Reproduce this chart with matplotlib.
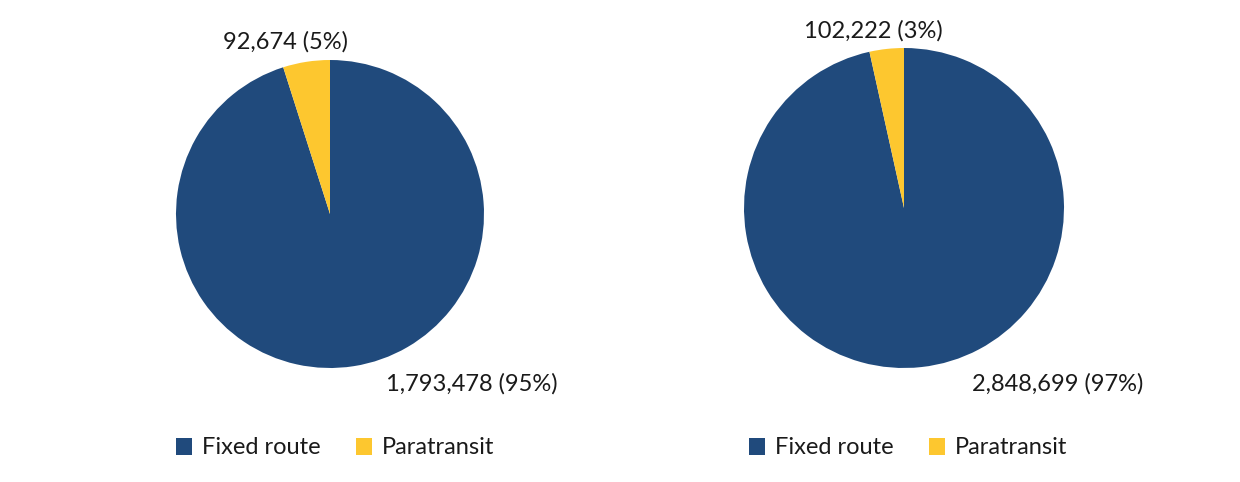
import matplotlib.pyplot as plt
from matplotlib.patches import Patch

# Data
categories = ["Fixed route", "Paratransit"]
left_values = [1793478, 92674]
right_values = [2848699, 102222]
colors = ["#204A7C", "#FDC72F"]

plt.rcParams['font.family'] = ['Lato', 'DejaVu Sans']

W, H = 1240, 482
fig = plt.figure(figsize=(W / 100, H / 100), dpi=100)


def fmt(v, total):
    return f"{v:,} ({v / total:.0%})"


def draw_pie(cx, cy, r, values, small_pos, big_pos, legend_x):
    # cx, cy, r in pixels (y from top)
    ax = fig.add_axes([(cx - r) / W, (H - cy - r) / H, 2 * r / W, 2 * r / H])
    ax.pie(values, colors=colors, startangle=90, counterclock=False,
           wedgeprops=dict(linewidth=0))
    ax.set_xlim(-1, 1)
    ax.set_ylim(-1, 1)
    total = sum(values)
    ax.text(small_pos[0], small_pos[1], fmt(values[1], total), ha='center', va='center',
            fontsize=17, color='#1a1a1a', clip_on=False)
    ax.text(big_pos[0], big_pos[1], fmt(values[0], total), ha='center', va='center',
            fontsize=17, color='#1a1a1a', clip_on=False)
    handles = [Patch(facecolor=c, edgecolor='none') for c in colors]
    fig.legend(handles, categories, loc='center', bbox_to_anchor=(legend_x / W, 1 - 448 / H),
               ncol=2, frameon=False, fontsize=17, handlelength=0.7, handleheight=0.7,
               handletextpad=0.4, columnspacing=1.5, labelcolor='#1a1a1a')


draw_pie(330, 214, 154, left_values, (-0.29, 1.12), (0.92, -1.10), 335)
draw_pie(904, 208, 160, right_values, (-0.19, 1.11), (0.96, -1.10), 908)

fig.savefig("out.png", dpi=100)
